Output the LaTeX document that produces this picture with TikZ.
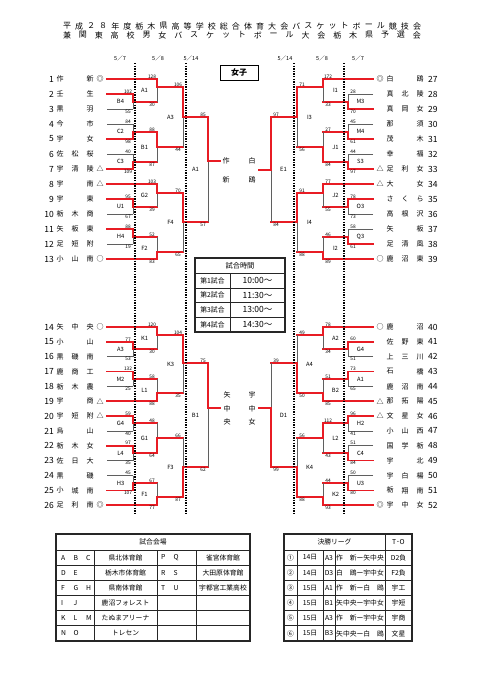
\documentclass[tikz,border=0pt]{standalone}
\usepackage{fontspec}
\setmainfont{Noto Sans CJK JP}
\usepackage{tikz}
\usetikzlibrary{calc}
\definecolor{brk}{RGB}{232,28,36}
\definecolor{gry}{RGB}{95,95,95}
\tikzset{
  win/.style={draw=brk, line width=1.6pt, line cap=rect},
  lose/.style={draw=gry, line width=0.9pt},
  tm/.style={font=\fontsize{7}{7}\selectfont, inner sep=0pt},
  num/.style={font=\fontsize{8.5}{8.5}\selectfont, inner sep=0pt},
  sc/.style={font=\fontsize{4.8}{5}\selectfont, inner sep=0.6pt},
  mlab/.style={font=\fontsize{5.8}{6}\selectfont, inner sep=0pt},
  hd/.style={font=\fontsize{5.5}{6}\selectfont, inner sep=0pt},
  ttl/.style={font=\fontsize{8}{8}\selectfont, inner sep=0pt},
  dline/.style={line width=1.7pt, dash pattern=on 1.3pt off 1.3pt},
  fin/.style={font=\fontsize{7}{7}\selectfont, inner sep=0pt},
  tbl/.style={line width=1.3pt, draw=black!85},
  tin/.style={line width=0.7pt, draw=black!85},
  cell/.style={font=\fontsize{6.8}{7}\selectfont, inner sep=0pt},
  tim/.style={font=\fontsize{8.5}{8.5}\selectfont, inner sep=0pt}
}
% side of the bracket: -1 left, 1 right
\newcommand{\bside}{-1}
% name, label, upper, lower, x, out y, winner (u/l), loser line style
\newcommand{\bout}[8]{%
  \coordinate (#1) at (#5,#6);
  \coordinate (#1u) at (#3 -| #1);
  \coordinate (#1l) at (#4 -| #1);
  \node[mlab] (#1t) at ($(#1u)!0.5!(#1l)+(\bside*12.5,0)$) {#2};
  \if#7u
    \draw[#8] (#4) -- (#1l);
    \draw[lose] (#1l) -- (#1);
    \draw[win] (#3) -- (#1u) -- (#1);
  \else
    \draw[#8] (#3) -- (#1u);
    \draw[lose] (#1u) -- (#1);
    \draw[win] (#4) -- (#1l) -- (#1);
  \fi}
\newcommand{\bsc}[3]{%
  \node[sc, above] (#1su) at ([xshift=\bside*5pt]#1u) {#2};
  \node[sc, below] (#1sl) at ([xshift=\bside*5pt]#1l) {#3};}
\newcommand{\abc}[3]{\makebox[12.5pt][l]{#1}\makebox[12.5pt][l]{#2}#3}

\begin{document}
\begin{tikzpicture}[x=1pt, y=-1pt]
  \fill[white] (0,0) rectangle (481,680);
  \useasboundingbox (0,0) rectangle (481,680);

  % Title
  \foreach \c [count=\i from 0] in {平,成,２,８,年,度,栃,木,県,高,等,学,校,総,合,体,育,大,会,バ,ス,ケ,ッ,ト,ボ,ー,ル,競,技,会}
    \node[ttl] (ta\i) at ({67+\i*12.07},26) {\c};
  \foreach \c [count=\i from 0] in {兼,関,東,高,校,男,女,バ,ス,ケ,ッ,ト,ボ,ー,ル,大,会,栃,木,県,予,選,会}
    \node[ttl] (tb\i) at ({67+\i*15.9},35) {\c};

  % Dates
  \node[hd] (d1) at (120,58) {5／7};
  \node[hd] (d2) at (158,58) {5／8};
  \node[hd] (d3) at (191,58) {5／14};
  \node[hd] (d4) at (285,58) {5／14};
  \node[hd] (d5) at (322,58) {5／8};
  \node[hd] (d6) at (358,58) {5／7};
  \node[draw, line width=0.9pt, minimum width=38pt, minimum height=15pt,
        inner sep=0pt, font=\fontsize{8}{8}\selectfont\bfseries] (girls)
    at (239,72.5) {女子};

  % Teams, left
  \foreach \n/\a/\b/\c/\m [count=\k from 0] in {1/作//新/◎, 2/壬//生/, 3/黒//羽/,
      4/今//市/, 5/宇//女/, 6/佐/松/桜/, 7/宇/清/陵/△, 8/宇//南/△, 9/宇//東/,
      10/栃/木/商/, 11/矢/板/東/, 12/足/短/附/, 13/小/山/南/○}{
    \pgfmathsetmacro{\yy}{79+15*\k}
    \coordinate (t\n) at (107,\yy);
    \node[num, anchor=east] (n\n) at (54,\yy) {\n};
    \node[tm] (a\n) at (60,\yy) {\a};
    \node[tm] (b\n) at (75,\yy) {\b};
    \node[tm] (c\n) at (90,\yy) {\c};
    \node[tm] (k\n) at (100,\yy) {\m};
  }
  \foreach \n/\a/\b/\c/\m [count=\k from 0] in {14/矢/中/央/○, 15/小//山/, 16/黒/磯/南/,
      17/鹿/商/工/, 18/栃/木/農/, 19/宇//商/△, 20/宇/短/附/△, 21/烏//山/,
      22/栃/木/女/, 23/佐/日/大/, 24/黒//磯/, 25/小/城/南/, 26/足/利/南/◎}{
    \pgfmathsetmacro{\yy}{327+14.85*\k}
    \coordinate (t\n) at (107,\yy);
    \node[num, anchor=east] (n\n) at (54,\yy) {\n};
    \node[tm] (a\n) at (60,\yy) {\a};
    \node[tm] (b\n) at (75,\yy) {\b};
    \node[tm] (c\n) at (90,\yy) {\c};
    \node[tm] (k\n) at (100,\yy) {\m};
  }
  % Teams, right
  \foreach \n/\a/\b/\c/\m [count=\k from 0] in {27/白//鴎/◎, 28/真/北/陵/, 29/真/岡/女/,
      30/那//須/, 31/茂//木/, 32/幸//福/, 33/足/利/女/△, 34/大//女/△, 35/さ/く/ら/,
      36/高/根/沢/, 37/矢//板/, 38/足/清/風/, 39/鹿/沼/東/○}{
    \pgfmathsetmacro{\yy}{79+15*\k}
    \coordinate (t\n) at (373,\yy);
    \node[num, anchor=west] (n\n) at (428,\yy) {\n};
    \node[tm] (a\n) at (390,\yy) {\a};
    \node[tm] (b\n) at (405,\yy) {\b};
    \node[tm] (c\n) at (420,\yy) {\c};
    \node[tm] (k\n) at (380,\yy) {\m};
  }
  \foreach \n/\a/\b/\c/\m [count=\k from 0] in {40/鹿//沼/○, 41/佐/野/東/, 42/上/三/川/,
      43/石//橋/, 44/鹿/沼/南/, 45/那/拓/陽/△, 46/文/星/女/△, 47/小/山/西/,
      48/国/学/栃/, 49/宇//北/, 50/宇/白/楊/, 51/栃/翔/南/, 52/宇/中/女/◎}{
    \pgfmathsetmacro{\yy}{327+14.85*\k}
    \coordinate (t\n) at (373,\yy);
    \node[num, anchor=west] (n\n) at (428,\yy) {\n};
    \node[tm] (a\n) at (390,\yy) {\a};
    \node[tm] (b\n) at (405,\yy) {\b};
    \node[tm] (c\n) at (420,\yy) {\c};
    \node[tm] (k\n) at (380,\yy) {\m};
  }

  % Left top
  \renewcommand{\bside}{-1}
  \bout{ltB4}{B4}{t2}{t3}{133}{102}{u}{lose}        \bsc{ltB4}{102}{55}
  \bout{ltA1}{A1}{t1}{ltB4}{157}{87}{u}{win}        \bsc{ltA1}{128}{30}
  \bout{ltC2}{C2}{t4}{t5}{133}{132}{l}{lose}        \bsc{ltC2}{84}{98}
  \bout{ltC3}{C3}{t6}{t7}{133}{162}{l}{lose}        \bsc{ltC3}{40}{109}
  \bout{ltB1}{B1}{ltC2}{ltC3}{157}{147}{u}{win}     \bsc{ltB1}{88}{87}
  \bout{ltA3}{A3}{ltA1}{ltB1}{183}{117}{u}{win}     \bsc{ltA3}{106}{44}
  \bout{ltU1}{U1}{t9}{t10}{133}{207}{u}{lose}       \bsc{ltU1}{95}{67}
  \bout{ltG2}{G2}{t8}{ltU1}{157}{193}{u}{win}       \bsc{ltG2}{103}{39}
  \bout{ltH4}{H4}{t11}{t12}{133}{237}{u}{lose}      \bsc{ltH4}{88}{19}
  \bout{ltF2}{F2}{ltH4}{t13}{157}{252}{l}{win}      \bsc{ltF2}{52}{83}
  \bout{ltF4}{F4}{ltG2}{ltF2}{183}{222}{u}{win}     \bsc{ltF4}{70}{65}
  \bout{ltfin}{A1}{ltA3}{ltF4}{208}{161}{u}{win}    \bsc{ltfin}{85}{57}

  % Left bottom
  \bout{lbA3}{A3}{t15}{t16}{133}{349}{u}{lose}      \bsc{lbA3}{77}{53}
  \bout{lbK1}{K1}{t14}{lbA3}{157}{335}{u}{win}      \bsc{lbK1}{120}{30}
  \bout{lbM2}{M2}{t17}{t18}{133}{379}{u}{lose}      \bsc{lbM2}{132}{25}
  \bout{lbL1}{L1}{lbM2}{t19}{157}{393}{l}{win}      \bsc{lbL1}{58}{88}
  \bout{lbK3}{K3}{lbK1}{lbL1}{183}{363}{u}{win}     \bsc{lbK3}{104}{35}
  \bout{lbG4}{G4}{t20}{t21}{133}{423}{u}{lose}      \bsc{lbG4}{59}{40}
  \bout{lbL4}{L4}{t22}{t23}{133}{453}{u}{lose}      \bsc{lbL4}{97}{35}
  \bout{lbG1}{G1}{lbG4}{lbL4}{157}{438}{l}{win}     \bsc{lbG1}{48}{64}
  \bout{lbH3}{H3}{t24}{t25}{133}{483}{l}{lose}      \bsc{lbH3}{45}{107}
  \bout{lbF1}{F1}{lbH3}{t26}{157}{497}{l}{win}      \bsc{lbF1}{67}{77}
  \bout{lbF3}{F3}{lbG1}{lbF1}{183}{467}{l}{win}     \bsc{lbF3}{66}{87}
  \bout{lbfin}{B1}{lbK3}{lbF3}{208}{408}{u}{win}    \bsc{lbfin}{75}{62}

  % Right top
  \renewcommand{\bside}{1}
  \bout{rtM3}{M3}{t28}{t29}{348}{102}{l}{lose}      \bsc{rtM3}{28}{70}
  \bout{rtI1}{I1}{t27}{rtM3}{323}{87}{u}{win}       \bsc{rtI1}{172}{33}
  \bout{rtM4}{M4}{t30}{t31}{348}{132}{l}{lose}      \bsc{rtM4}{45}{61}
  \bout{rtS3}{S3}{t32}{t33}{348}{162}{l}{lose}      \bsc{rtS3}{44}{97}
  \bout{rtJ1}{J1}{rtM4}{rtS3}{323}{147}{l}{win}     \bsc{rtJ1}{27}{84}
  \bout{rtI3}{I3}{rtI1}{rtJ1}{297}{117}{u}{win}     \bsc{rtI3}{71}{56}
  \bout{rtO3}{O3}{t35}{t36}{348}{207}{u}{lose}      \bsc{rtO3}{78}{73}
  \bout{rtJ2}{J2}{t34}{rtO3}{323}{193}{u}{win}      \bsc{rtJ2}{77}{55}
  \bout{rtQ3}{Q3}{t37}{t38}{348}{237}{l}{lose}      \bsc{rtQ3}{58}{61}
  \bout{rtI2}{I2}{rtQ3}{t39}{323}{252}{l}{win}      \bsc{rtI2}{46}{89}
  \bout{rtI4}{I4}{rtJ2}{rtI2}{297}{222}{u}{win}     \bsc{rtI4}{91}{88}
  \bout{rtfin}{E1}{rtI3}{rtI4}{271}{170}{u}{win}    \bsc{rtfin}{97}{84}

  % Right bottom
  \bout{rbG4}{G4}{t41}{t42}{348}{349}{u}{lose}      \bsc{rbG4}{60}{51}
  \bout{rbA2}{A2}{t40}{rbG4}{323}{335}{u}{win}      \bsc{rbA2}{78}{34}
  \bout{rbA1}{A1}{t43}{t44}{348}{379}{u}{lose}      \bsc{rbA1}{73}{65}
  \bout{rbB2}{B2}{rbA1}{t45}{323}{393}{l}{win}      \bsc{rbB2}{51}{85}
  \bout{rbA4}{A4}{rbA2}{rbB2}{297}{363}{l}{win}     \bsc{rbA4}{49}{50}
  \bout{rbH2}{H2}{t46}{t47}{348}{423}{u}{lose}      \bsc{rbH2}{96}{41}
  \bout{rbC4}{C4}{t48}{t49}{348}{453}{l}{lose}      \bsc{rbC4}{51}{84}
  \bout{rbL2}{L2}{rbH2}{rbC4}{323}{438}{u}{win}     \bsc{rbL2}{112}{43}
  \bout{rbU3}{U3}{t50}{t51}{348}{483}{l}{lose}      \bsc{rbU3}{50}{80}
  \bout{rbK2}{K2}{rbU3}{t52}{323}{497}{l}{win}      \bsc{rbK2}{44}{93}
  \bout{rbK4}{K4}{rbL2}{rbK2}{297}{467}{l}{win}     \bsc{rbK4}{56}{88}
  \bout{rbfin}{D1}{rbA4}{rbK4}{271}{408}{l}{win}    \bsc{rbfin}{39}{99}

  % Finalists
  \coordinate (ltend) at (220,161);
  \coordinate (rtend) at (259,170);
  \coordinate (lbend) at (220,408);
  \coordinate (rbend) at (259,408);
  \draw[win] (ltfin) -- (ltend);
  \draw[win] (rtfin) -- (rtend);
  \draw[win] (lbfin) -- (lbend);
  \draw[win] (rbfin) -- (rbend);
  \node[fin] (fa1) at (226,161) {作};
  \node[fin] (fa2) at (226,180) {新};
  \node[fin] (fb1) at (252,161) {白};
  \node[fin] (fb2) at (252,180) {鴎};
  \node[fin] (fc1) at (227,395) {矢};
  \node[fin] (fc2) at (227,408.5) {中};
  \node[fin] (fc3) at (227,422) {央};
  \node[fin] (fd1) at (252,395) {宇};
  \node[fin] (fd2) at (252,408.5) {中};
  \node[fin] (fd3) at (252,422) {女};

  % Rounds
  \foreach \x in {135,186,294,344}
    \draw[dline] (\x,63) -- (\x,514);

  % Start times
  \draw[tbl, fill=white] (195,258) rectangle (285,332);
  \foreach \yy in {273,288,302,317}
    \draw[tin, line width=1pt] (195,\yy) -- (285,\yy);
  \draw[tin, line width=1pt] (230,273) -- (230,332);
  \node[cell, font=\fontsize{7.2}{7}\selectfont] (tt0) at (240,265.5) {試合時間};
  \foreach \q/\tt [count=\k from 0] in {1/10:00～, 2/11:30～, 3/13:00～, 4/14:30～}{
    \node[cell] (tl\q) at (212.5,{280.5+14.67*\k}) {第\q 試合};
    \node[tim] (tr\q) at (257.5,{280.5+14.67*\k}) {\tt};
  }

  % Venues
  \draw[tbl] (56,534) rectangle (250,641);
  \foreach \yy in {550,565.2,580.3,595.5,610.7,625.8}
    \draw[tin] (56,\yy) -- (250,\yy);
  \foreach \xx in {94,157,196}
    \draw[tin] (\xx,550) -- (\xx,641);
  \node[cell] (v0) at (153,542) {試合会場};
  \node[cell, anchor=west] (v1a) at (61,557.6) {\abc{A}{B}{C}};
  \node[cell] (v1b) at (125.5,557.6) {県北体育館};
  \node[cell, anchor=west] (v1c) at (161,557.6) {\abc{P}{Q}{}};
  \node[cell] (v1d) at (223,557.6) {雀宮体育館};
  \node[cell, anchor=west] (v2a) at (61,572.8) {\abc{D}{E}{}};
  \node[cell] (v2b) at (125.5,572.8) {栃木市体育館};
  \node[cell, anchor=west] (v2c) at (161,572.8) {\abc{R}{S}{}};
  \node[cell] (v2d) at (223,572.8) {大田原体育館};
  \node[cell, anchor=west] (v3a) at (61,587.9) {\abc{F}{G}{H}};
  \node[cell] (v3b) at (125.5,587.9) {県南体育館};
  \node[cell, anchor=west] (v3c) at (161,587.9) {\abc{T}{U}{}};
  \node[cell] (v3d) at (223,587.9) {宇都宮工業高校};
  \node[cell, anchor=west] (v4a) at (61,603.1) {\abc{I}{J}{}};
  \node[cell] (v4b) at (125.5,603.1) {鹿沼フォレスト};
  \node[cell, anchor=west] (v5a) at (61,618.2) {\abc{K}{L}{M}};
  \node[cell] (v5b) at (125.5,618.2) {たぬまアリーナ};
  \node[cell, anchor=west] (v6a) at (61,633.4) {\abc{N}{O}{}};
  \node[cell] (v6b) at (125.5,633.4) {トレセン};

  % Final league
  \draw[tbl] (284,534) rectangle (412,641);
  \foreach \yy in {550,565.2,580.3,595.5,610.7,625.8}
    \draw[tin] (284,\yy) -- (412,\yy);
  \draw[tin] (385,534) -- (385,641);
  \foreach \xx in {297,323,335}
    \draw[tin] (\xx,550) -- (\xx,641);
  \node[cell] (fl0) at (334.5,542) {決勝リーグ};
  \node[cell] (fl1) at (398.5,542) {T･O};
  \foreach \fa/\fb/\fc/\fd/\fe [count=\k from 0] in {①/14日/A3/作　新ー矢中央/D2負,
      ②/14日/D3/白　鴎ー宇中女/F2負, ③/15日/A1/作　新ー白　鴎/宇工,
      ④/15日/B1/矢中央ー宇中女/宇短, ⑤/15日/A3/作　新ー宇中女/宇商,
      ⑥/15日/B3/矢中央ー白　鴎/文星}{
    \node[cell] (g\k a) at (290.5,{557.6+15.17*\k}) {\fa};
    \node[cell] (g\k b) at (310,{557.6+15.17*\k}) {\fb};
    \node[cell] (g\k c) at (329,{557.6+15.17*\k}) {\fc};
    \node[cell] (g\k d) at (360,{557.6+15.17*\k}) {\fd};
    \node[cell] (g\k e) at (398.5,{557.6+15.17*\k}) {\fe};
  }
\end{tikzpicture}
\end{document}
